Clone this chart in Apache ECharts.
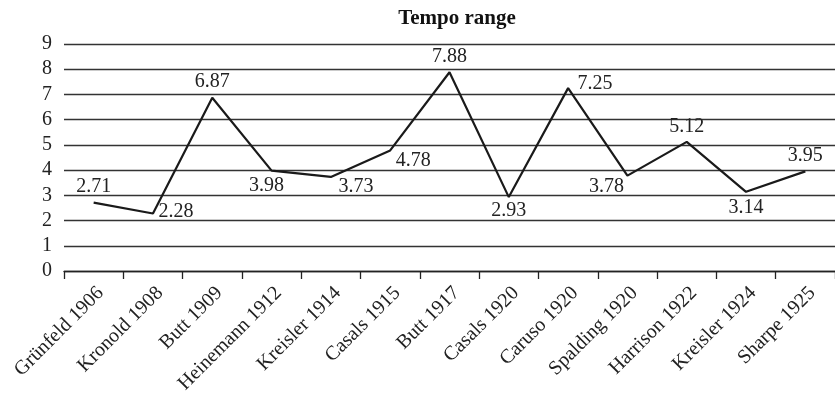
<!DOCTYPE html>
<html>
<head>
<meta charset="utf-8">
<script src="https://cdn.jsdelivr.net/npm/echarts@6/dist/echarts.min.js"></script>
<style>
  html, body { margin: 0; padding: 0; background: #fff; }
  #chart { width: 835px; height: 398px; }
</style>
</head>
<body>
<div id="chart"></div>
<script>
// Recordings, in chronological order
const recordings = [
  'Grünfeld 1906', 'Kronold 1908', 'Butt 1909', 'Heinemann 1912',
  'Kreisler 1914', 'Casals 1915', 'Butt 1917', 'Casals 1920',
  'Caruso 1920', 'Spalding 1920', 'Harrison 1922', 'Kreisler 1924', 'Sharpe 1925'
];
// Tempo range of each recording
const tempoRange = [2.71, 2.28, 6.87, 3.98, 3.73, 4.78, 7.88, 2.93, 7.25, 3.78, 5.12, 3.14, 3.95];
// Y axis ticks
const yTicks = [0, 1, 2, 3, 4, 5, 6, 7, 8, 9];

// Where each value label sits relative to its point
const labelSpots = [
  { position: 'top' },
  { position: 'right', offset: [0, -2] },
  { position: 'top' },
  { position: 'bottom', offset: [-5, 0] },
  { position: 'right', offset: [2, 10] },
  { position: 'right', offset: [0, 10] },
  { position: 'top' },
  { position: 'bottom', offset: [0, -2] },
  { position: 'right', offset: [4, -4] },
  { position: 'left', offset: [2, 11] },
  { position: 'top' },
  { position: 'bottom' },
  { position: 'top' }
];

const serif = '"Liberation Serif", "DejaVu Serif", serif';

const chart = echarts.init(document.getElementById('chart'), null, { renderer: 'canvas' });

chart.setOption({
  animation: false,
  backgroundColor: '#ffffff',
  title: {
    text: 'Tempo range',
    left: 452,
    textAlign: 'center',
    top: 3,
    textStyle: { fontFamily: serif, fontWeight: 'bold', fontSize: 21, color: '#111' }
  },
  grid: { left: 64, top: 44, width: 775, height: 227, containLabel: false },
  xAxis: {
    type: 'category',
    data: recordings,
    boundaryGap: true,
    axisLine: { show: true, lineStyle: { color: '#222', width: 1.3 } },
    axisTick: { show: true, length: 8, alignWithLabel: false, lineStyle: { color: '#222', width: 1.3 } },
    axisLabel: {
      rotate: 45,
      margin: 12,
      interval: 0,
      verticalAlign: 'top',
      fontFamily: serif,
      fontSize: 20,
      color: '#222'
    },
    splitLine: { show: false }
  },
  yAxis: {
    type: 'value',
    min: yTicks[0],
    max: yTicks[yTicks.length - 1],
    interval: 1,
    axisLine: { show: false },
    axisTick: { show: false },
    axisLabel: { margin: 12, fontFamily: serif, fontSize: 20, color: '#222' },
    splitLine: { show: true, lineStyle: { color: '#333', width: 1.3 } }
  },
  series: [{
    type: 'line',
    data: tempoRange.map((v, i) => ({
      value: v,
      label: Object.assign({ show: true }, labelSpots[i])
    })),
    symbol: 'circle',
    symbolSize: 1,
    showSymbol: true,
    itemStyle: { color: 'rgba(0,0,0,0)' },
    lineStyle: { color: '#1a1a1a', width: 2.2 },
    label: {
      show: true,
      fontFamily: serif,
      fontSize: 20,
      color: '#222',
      distance: 5,
      formatter: p => p.value.toFixed(2)
    },
    z: 5
  }]
});
</script>
</body>
</html>
